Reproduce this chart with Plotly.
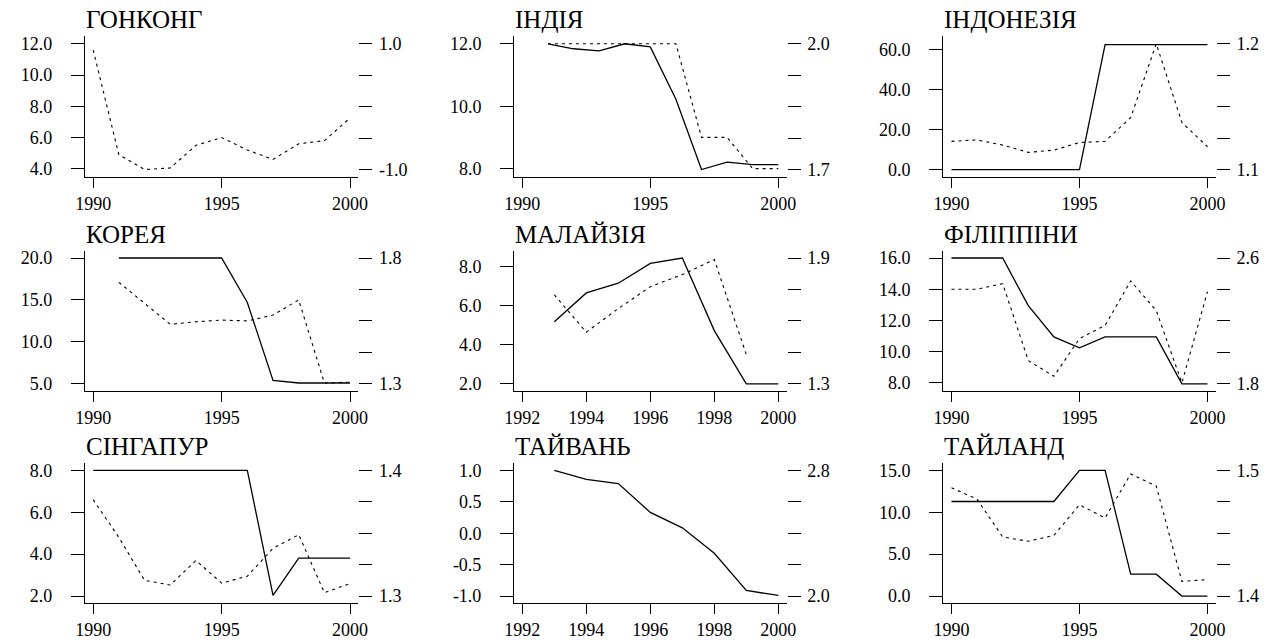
import plotly.graph_objects as go

# ---------------- data ----------------
titles = ["ГОНКОНГ", "ІНДІЯ", "ІНДОНЕЗІЯ", "КОРЕЯ", "МАЛАЙЗІЯ", "ФІЛІППІНИ", "СІНГАПУР", "ТАЙВАНЬ", "ТАЙЛАНД"]

hk_years = [1990, 1991, 1992, 1993, 1994, 1995, 1996, 1997, 1998, 1999, 2000]
hk_solid = []
hk_dashed = [11.6, 4.9, 3.95, 4.05, 5.5, 6.0, 5.2, 4.6, 5.6, 5.8, 7.25]

in_years = [1991, 1992, 1993, 1994, 1995, 1996, 1997, 1998, 1999, 2000]
in_solid = [12.0, 11.84, 11.77, 12.0, 11.9, 10.22, 7.97, 8.21, 8.13, 8.13]
in_dashed = [12.0, 12.0, 12.0, 12.0, 12.0, 12.0, 9.0, 9.0, 8.0, 8.0]

id_years = [1990, 1991, 1992, 1993, 1994, 1995, 1996, 1997, 1998, 1999, 2000]
id_solid = [0.0, 0.0, 0.0, 0.0, 0.0, 0.0, 62.4, 62.4, 62.4, 62.4, 62.4]
id_dashed = [14.1, 14.8, 12.2, 8.6, 9.7, 13.5, 14.1, 25.9, 62.8, 23.5, 11.4]

kr_years = [1991, 1992, 1993, 1994, 1995, 1996, 1997, 1998, 1999, 2000]
kr_solid = [20.0, 20.0, 20.0, 20.0, 20.0, 14.7, 5.4, 5.1, 5.1, 5.1]
kr_dashed = [17.1, 14.6, 12.1, 12.4, 12.6, 12.5, 13.2, 15.0, 5.1, 5.2]

my_years = [1993, 1994, 1995, 1996, 1997, 1998, 1999, 2000]
my_solid = [5.18, 6.66, 7.16, 8.17, 8.45, 4.73, 2.0, 2.0]
my_dashed = [6.56, 4.65, 5.86, 6.98, 7.6, 8.37, 3.5, None]

ph_years = [1990, 1991, 1992, 1993, 1994, 1995, 1996, 1997, 1998, 1999, 2000]
ph_solid = [16.0, 16.0, 16.0, 12.95, 10.95, 10.25, 10.95, 10.95, 10.95, 7.94, 7.94]
ph_dashed = [14.0, 14.0, 14.36, 9.43, 8.42, 10.84, 11.68, 14.53, 12.63, 8.0, 13.85]

sg_years = [1990, 1991, 1992, 1993, 1994, 1995, 1996, 1997, 1998, 1999, 2000]
sg_solid = [8.0, 8.0, 8.0, 8.0, 8.0, 8.0, 8.0, 2.03, 3.81, 3.81, 3.81]
sg_dashed = [6.6, 4.8, 2.75, 2.53, 3.7, 2.62, 2.95, 4.28, 4.93, 2.16, 2.6]

tw_years = [1993, 1994, 1995, 1996, 1997, 1998, 1999, 2000]
tw_solid = [1.0, 0.855, 0.79, 0.33, 0.085, -0.32, -0.91, -0.99]
tw_dashed = []

th_years = [1990, 1991, 1992, 1993, 1994, 1995, 1996, 1997, 1998, 1999, 2000]
th_solid = [11.28, 11.28, 11.28, 11.28, 11.28, 15.0, 15.0, 2.62, 2.62, 0.0, 0.0]
th_dashed = [12.92, 11.55, 7.05, 6.54, 7.24, 10.89, 9.32, 14.57, 13.12, 1.76, 1.96]

years_list = [hk_years, in_years, id_years, kr_years, my_years, ph_years, sg_years, tw_years, th_years]
solid_list = [hk_solid, in_solid, id_solid, kr_solid, my_solid, ph_solid, sg_solid, tw_solid, th_solid]
dashed_list = [hk_dashed, in_dashed, id_dashed, kr_dashed, my_dashed, ph_dashed, sg_dashed, tw_dashed, th_dashed]

left_ticks = [
    [4, 6, 8, 10, 12],
    [8, 10, 12],
    [0, 20, 40, 60],
    [5, 10, 15, 20],
    [2, 4, 6, 8],
    [8, 10, 12, 14, 16],
    [2, 4, 6, 8],
    [-1.0, -0.5, 0.0, 0.5, 1.0],
    [0, 5, 10, 15],
]
right_labels = [
    ("-1.0", "1.0"), ("1.7", "2.0"), ("1.1", "1.2"),
    ("1.3", "1.8"), ("1.3", "1.9"), ("1.8", "2.6"),
    ("1.3", "1.4"), ("2.0", "2.8"), ("1.4", "1.5"),
]
x_ticks_5 = [1990, 1995, 2000]
x_ticks_2 = [1992, 1994, 1996, 1998, 2000]
x_ticks = [x_ticks_5, x_ticks_5, x_ticks_5, x_ticks_5, x_ticks_2, x_ticks_5, x_ticks_5, x_ticks_2, x_ticks_5]

# ---------------- layout geometry (pixels) ----------------
W, H = 1277, 640
col_px = [(76, 354), (512, 789), (948, 1225)]
row_px = [(35, 178), (253, 396), (469, 612)]
FONT = "Liberation Serif"
TICK_SIZE = 18
TITLE_SIZE = 25

fig = go.Figure()
layout = dict(
    width=W, height=H, margin=dict(l=0, r=0, t=0, b=0),
    paper_bgcolor="white", plot_bgcolor="white",
    showlegend=False, font=dict(family=FONT, size=TICK_SIZE, color="black"),
)
annotations = []

for i in range(9):
    k = i + 1
    r, c = divmod(i, 3)
    xa = "x" if k == 1 else f"x{k}"
    ya = "y" if k == 1 else f"y{k}"
    ya2 = f"y{k + 9}"
    yrs = years_list[i]
    s = solid_list[i]
    d = dashed_list[i]
    if s:
        fig.add_trace(go.Scatter(x=yrs, y=s, mode="lines", xaxis=xa, yaxis=ya,
                                 line=dict(color="black", width=1.3), hoverinfo="skip"))
    if d:
        fig.add_trace(go.Scatter(x=yrs, y=d, mode="lines", xaxis=xa, yaxis=ya,
                                 line=dict(color="black", width=1.1, dash="3px,4px"), hoverinfo="skip"))
    # placeholder trace so that the right axis is drawn
    fig.add_trace(go.Scatter(x=[None], y=[None], mode="lines", xaxis=xa, yaxis=ya2,
                             showlegend=False, hoverinfo="skip"))

    vals = [v for v in list(s) + list(d) if v is not None]
    lt = left_ticks[i]
    lo = min(min(vals), min(lt))
    hi = max(max(vals), max(lt))
    pad = 7.5 * (hi - lo) / 128.0
    yr = [lo - pad, hi + pad]

    xt = x_ticks[i]
    xlo = min(min(yrs), min(xt))
    xhi = max(max(yrs), max(xt))
    xpad = 8.5 * (xhi - xlo) / 261.0
    xr = [xlo - xpad, xhi + xpad]

    x0, x1 = col_px[c]
    y0, y1 = row_px[r]
    xdom = [x0 / W, x1 / W]
    ydom = [1 - y1 / H, 1 - y0 / H]

    xkey = "xaxis" if k == 1 else f"xaxis{k}"
    ykey = "yaxis" if k == 1 else f"yaxis{k}"
    layout[xkey] = dict(
        domain=xdom, anchor=ya, range=xr, showgrid=False, zeroline=False,
        showline=True, linecolor="black", linewidth=1,
        ticks="outside", ticklen=10, tickcolor="black", tickwidth=1,
        tickvals=xt, ticktext=[str(v) for v in xt],
        tickfont=dict(family=FONT, size=TICK_SIZE, color="black"),
        fixedrange=True,
    )
    layout[ykey] = dict(
        domain=ydom, anchor=xa, range=yr, showgrid=False, zeroline=False,
        showline=True, linecolor="black", linewidth=1,
        ticks="outside", ticklen=13, tickcolor="black", tickwidth=1,
        tickvals=lt, ticktext=[f"{v:.1f}" for v in lt],
        tickfont=dict(family=FONT, size=TICK_SIZE, color="black"),
        ticklabelstandoff=15, fixedrange=True,
    )
    rvals = [lo + (hi - lo) * j / 4.0 for j in range(5)]
    rtext = [right_labels[i][0], "", "", "", right_labels[i][1]]
    layout[f"yaxis{k + 9}"] = dict(
        overlaying=ya, anchor=xa, side="right", range=yr,
        showgrid=False, zeroline=False, showline=False,
        ticks="outside", ticklen=13, tickcolor="black", tickwidth=1,
        tickvals=rvals, ticktext=rtext,
        tickfont=dict(family=FONT, size=TICK_SIZE, color="black"),
        ticklabelstandoff=3, fixedrange=True,
    )
    annotations.append(dict(
        text=titles[i], xref=f"{xa} domain", yref=f"{ya} domain",
        x=0, y=1, xanchor="left", yanchor="bottom", yshift=1, xshift=-1, showarrow=False,
        font=dict(family=FONT, size=TITLE_SIZE, color="black"),
    ))

layout["annotations"] = annotations
fig.update_layout(**layout)
fig.write_html("out.html")
